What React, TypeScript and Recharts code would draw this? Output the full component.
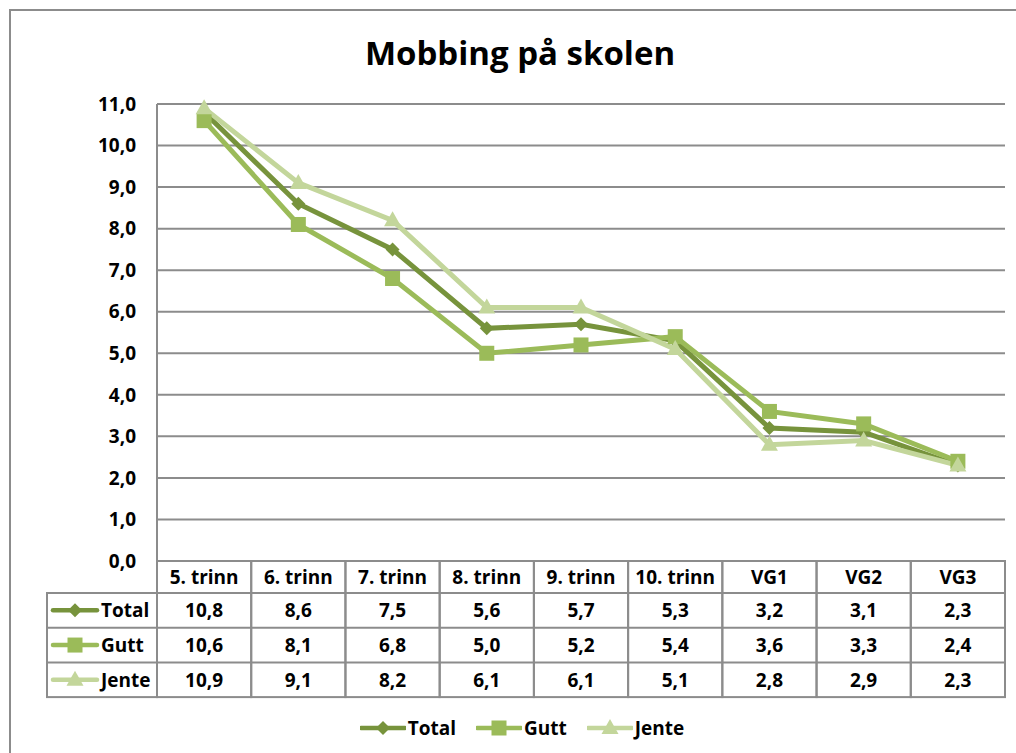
import React from "react";
import { CartesianGrid, Legend, Line, LineChart, XAxis, YAxis } from "recharts";

const categories = ["5. trinn", "6. trinn", "7. trinn", "8. trinn", "9. trinn", "10. trinn", "VG1", "VG2", "VG3"];
const total = [10.8, 8.6, 7.5, 5.6, 5.7, 5.3, 3.2, 3.1, 2.3];
const gutt = [10.6, 8.1, 6.8, 5.0, 5.2, 5.4, 3.6, 3.3, 2.4];
const jente = [10.9, 9.1, 8.2, 6.1, 6.1, 5.1, 2.8, 2.9, 2.3];
const yTicks = [0, 1, 2, 3, 4, 5, 6, 7, 8, 9, 10, 11];

const series = [
  { key: "total", name: "Total", values: total, color: "#77933C", marker: "diamond" },
  { key: "gutt", name: "Gutt", values: gutt, color: "#9BBB59", marker: "square" },
  { key: "jente", name: "Jente", values: jente, color: "#C3D69B", marker: "triangle" },
];

const data = categories.map((name, i) => ({ name, total: total[i], gutt: gutt[i], jente: jente[i] }));

const FONT = "'Open Sans', sans-serif";
const GRID = "#8c8c8c";
const COL_W = 848 / 9;
const HEADER_H = 32;
const ROW_H = 34.7;
const LABEL_W = 110;

const fmt = (v: number) => v.toFixed(1).replace(".", ",");

function Marker({ type, x, y, color }: { type: string; x: number; y: number; color: string }) {
  if (type === "diamond") {
    return <polygon points={`${x},${y - 7} ${x + 7},${y} ${x},${y + 7} ${x - 7},${y}`} fill={color} />;
  }
  if (type === "square") {
    return <rect x={x - 7.5} y={y - 7.5} width={15} height={15} fill={color} />;
  }
  return <polygon points={`${x},${y - 9} ${x + 8.5},${y + 6} ${x - 8.5},${y + 6}`} fill={color} />;
}

function LegendIcon({ type, color }: { type: string; color: string }) {
  return (
    <svg width={46} height={20} style={{ display: "block" }}>
      <line x1={1} y1={10} x2={45} y2={10} stroke={color} strokeWidth={4.5} strokeLinecap="round" />
      <Marker type={type} x={23} y={10} color={color} />
    </svg>
  );
}

function TableTick(props: any) {
  const { y, payload, index } = props;
  const cx = payload.coordinate;
  const left = cx - COL_W / 2;
  const textProps = {
    textAnchor: "middle" as const,
    dominantBaseline: "central" as const,
    fontFamily: FONT,
    fontWeight: 700,
    fontSize: 19,
    fill: "#000",
  };
  return (
    <g>
      <rect x={left} y={y} width={COL_W} height={HEADER_H + ROW_H * 3} fill="none" stroke={GRID} strokeWidth={2} />
      <text x={cx} y={y + HEADER_H / 2} {...textProps}>
        {payload.value}
      </text>
      {series.map((s, r) => (
        <g key={s.key}>
          <line x1={left} x2={left + COL_W} y1={y + HEADER_H + ROW_H * r} y2={y + HEADER_H + ROW_H * r} stroke={GRID} strokeWidth={2} />
          <text x={cx} y={y + HEADER_H + ROW_H * r + ROW_H / 2} {...textProps}>
            {fmt(s.values[index])}
          </text>
        </g>
      ))}
      {index === 0 && (
        <g>
          <rect x={left - LABEL_W} y={y + HEADER_H} width={LABEL_W} height={ROW_H * 3} fill="none" stroke={GRID} strokeWidth={2} />
          {series.map((s, r) => {
            const ry = y + HEADER_H + ROW_H * r;
            return (
              <g key={s.key}>
                <line x1={left - LABEL_W} x2={left} y1={ry} y2={ry} stroke={GRID} strokeWidth={2} />
                <line x1={left - LABEL_W + 6} x2={left - LABEL_W + 50} y1={ry + ROW_H / 2} y2={ry + ROW_H / 2} stroke={s.color} strokeWidth={4.5} strokeLinecap="round" />
                <Marker type={s.marker} x={left - LABEL_W + 28} y={ry + ROW_H / 2} color={s.color} />
                <text x={left - LABEL_W + 54} y={ry + ROW_H / 2} {...textProps} textAnchor="start">
                  {s.name}
                </text>
              </g>
            );
          })}
        </g>
      )}
    </g>
  );
}

function LegendContent() {
  return (
    <div style={{ display: "flex", justifyContent: "center", alignItems: "center", gap: 20, fontFamily: FONT, fontWeight: 700, fontSize: 19 }}>
      {series.map((s) => (
        <div key={s.key} style={{ display: "flex", alignItems: "center", gap: 2 }}>
          <LegendIcon type={s.marker} color={s.color} />
          <span>{s.name}</span>
        </div>
      ))}
    </div>
  );
}

export default function App() {
  return (
    <div style={{ position: "absolute", left: 0, top: 0, width: 1016, height: 753, overflow: "hidden", background: "#fff" }}>
      <div style={{ position: "absolute", left: 9, top: 9, width: 1040, height: 780, border: `2px solid ${GRID}` }} />
      <div
        style={{
          position: "absolute",
          left: 12,
          top: 36,
          width: 1016,
          textAlign: "center",
          fontFamily: FONT,
          fontWeight: 700,
          fontSize: 33,
          lineHeight: "33px",
        }}
      >
        Mobbing på skolen
      </div>
      <div style={{ position: "absolute", left: 0, top: 0 }}>
        <LineChart width={1016} height={753} data={data} margin={{ top: 104, right: 11, bottom: 56, left: 97 }}>
          <CartesianGrid horizontal vertical={false} stroke={GRID} strokeWidth={2} />
          <XAxis
            dataKey="name"
            padding={{ left: COL_W / 2, right: COL_W / 2 }}
            height={136}
            tickSize={0}
            tickMargin={0}
            tickLine={false}
            axisLine={{ stroke: GRID, strokeWidth: 2 }}
            tick={<TableTick />}
            interval={0}
          />
          <YAxis
            domain={[0, 11]}
            ticks={yTicks}
            width={60}
            tickSize={0}
            tickMargin={21}
            tickLine={false}
            axisLine={{ stroke: GRID, strokeWidth: 2 }}
            tickFormatter={fmt}
            tick={{ fill: "#000", fontFamily: FONT, fontWeight: 700, fontSize: 19 }}
          />
          <Legend
            layout="horizontal"
            verticalAlign="middle"
            align="center"
            content={<LegendContent />}
            wrapperStyle={{ top: 715, left: 14, width: 1016 }}
          />
          {series.map((s) => (
            <Line
              key={s.key}
              dataKey={s.key}
              name={s.name}
              stroke={s.color}
              strokeWidth={5}
              isAnimationActive={false}
              dot={(p: any) => (
                <g key={`${s.key}-${p.index}`}>
                  <Marker type={s.marker} x={p.cx} y={p.cy} color={s.color} />
                </g>
              )}
              activeDot={false}
            />
          ))}
        </LineChart>
      </div>
    </div>
  );
}
